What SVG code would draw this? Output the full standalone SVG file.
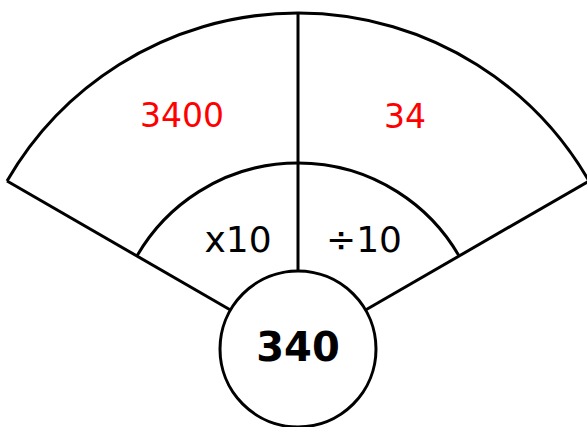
<svg xmlns="http://www.w3.org/2000/svg" width="587" height="427" viewBox="0 0 587 427">
<style>
.ln{fill:none;stroke:#000;stroke-width:3;stroke-linecap:butt}
.red{font-family:"DejaVu Sans",sans-serif;font-size:33px;fill:#ff0000;text-anchor:middle}
.op{font-family:"DejaVu Sans",sans-serif;font-size:36px;fill:#000;text-anchor:middle}
.ctr{font-family:"DejaVu Sans",sans-serif;font-size:40px;font-weight:bold;fill:#000;text-anchor:middle}
</style>
<rect width="587" height="427" fill="#fff"/>
<g id="fan">
<path class="ln" d="M 7.02 181 A 336 336 0 0 1 588.98 181"/>
<path class="ln" d="M 136.92 256 A 186 186 0 0 1 459.08 256"/>
<line class="ln" x1="7.02" y1="181" x2="230.45" y2="310"/>
<line class="ln" x1="588.98" y1="181" x2="365.55" y2="310"/>
<line class="ln" x1="298" y1="13" x2="298" y2="271"/>
</g>
<g id="outer-left"><text class="red" x="182" y="127">3400</text></g>
<g id="outer-right"><text class="red" x="405" y="128">34</text></g>
<g id="inner-left"><text class="op" x="238" y="252">x10</text></g>
<g id="inner-right"><text class="op" x="364" y="252">÷10</text></g>
<g id="center">
<circle class="ln" cx="298" cy="349" r="78"/>
<text class="ctr" x="298" y="361">340</text>
</g>
</svg>
